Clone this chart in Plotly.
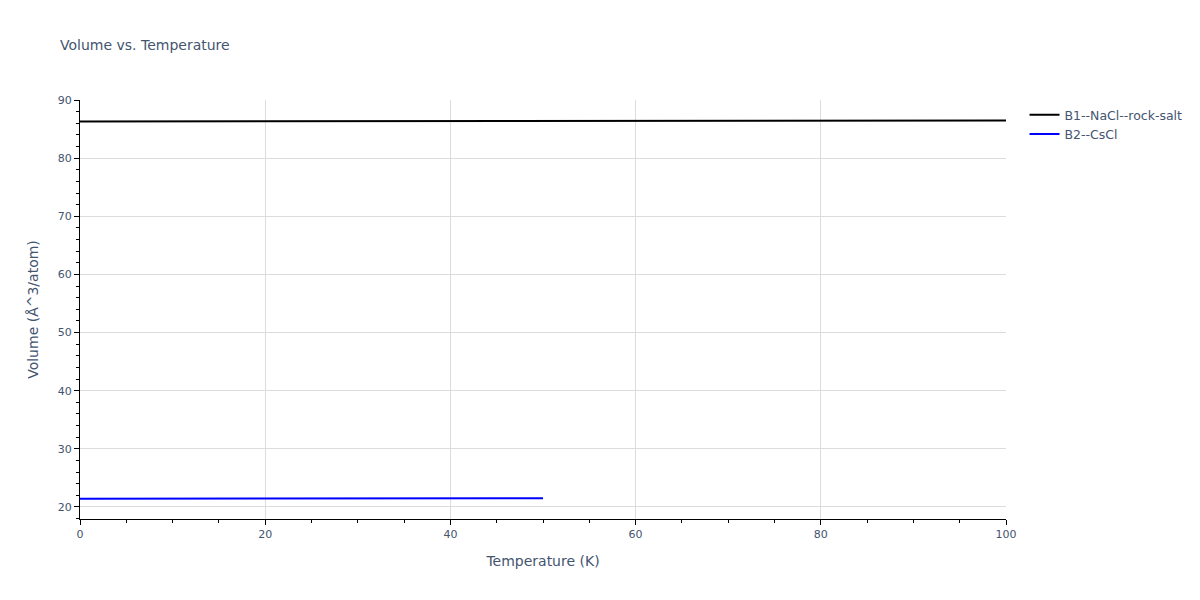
import plotly.graph_objects as go

# temperature (K) and volume (Å^3/atom) per phase
temp_b1 = [0, 10, 20, 30, 40, 50, 60, 70, 80, 90, 100]
vol_b1 = [86.32, 86.33, 86.34, 86.35, 86.36, 86.37, 86.39, 86.40, 86.42, 86.44, 86.46]

temp_b2 = [0, 10, 20, 30, 40, 50]
vol_b2 = [21.42, 21.43, 21.44, 21.45, 21.47, 21.49]

fig = go.Figure()
fig.add_trace(go.Scatter(x=temp_b1, y=vol_b1, mode='lines', name='B1--NaCl--rock-salt',
                         line=dict(color='black', width=2)))
fig.add_trace(go.Scatter(x=temp_b2, y=vol_b2, mode='lines', name='B2--CsCl',
                         line=dict(color='blue', width=2)))

axis_style = dict(showline=True, linecolor='black', linewidth=1, ticks='outside',
                  tickcolor='black', gridcolor='#dcdcdc', zeroline=False)

# page has an 8px body margin, so the figure is a bit smaller than the window
W, H = 1192, 592

fig.update_layout(
    template='plotly_white',
    width=W, height=H,
    font=dict(family='DejaVu Sans', size=11, color='#44546f'),
    title=dict(text='Volume vs. Temperature', xref='container', x=52 / W, xanchor='left',
               yref='container', y=1 - 37 / H, yanchor='middle', font=dict(size=14)),
    margin=dict(l=72, r=194, t=92, b=81),
    legend=dict(x=1.02, y=1.0, yanchor='top', font=dict(size=12.5)),
    xaxis=dict(title=dict(text='Temperature (K)', font=dict(size=14)), range=[0, 100], dtick=20,
               minor=dict(dtick=5, ticks='outside', tickcolor='black', showgrid=False),
               **axis_style),
    yaxis=dict(title=dict(text='Volume (Å^3/atom)', font=dict(size=14)), range=[17.93, 90], dtick=10,
               minor=dict(dtick=2, ticks='outside', tickcolor='black', showgrid=False),
               **axis_style),
)

fig.write_html("out.html")
